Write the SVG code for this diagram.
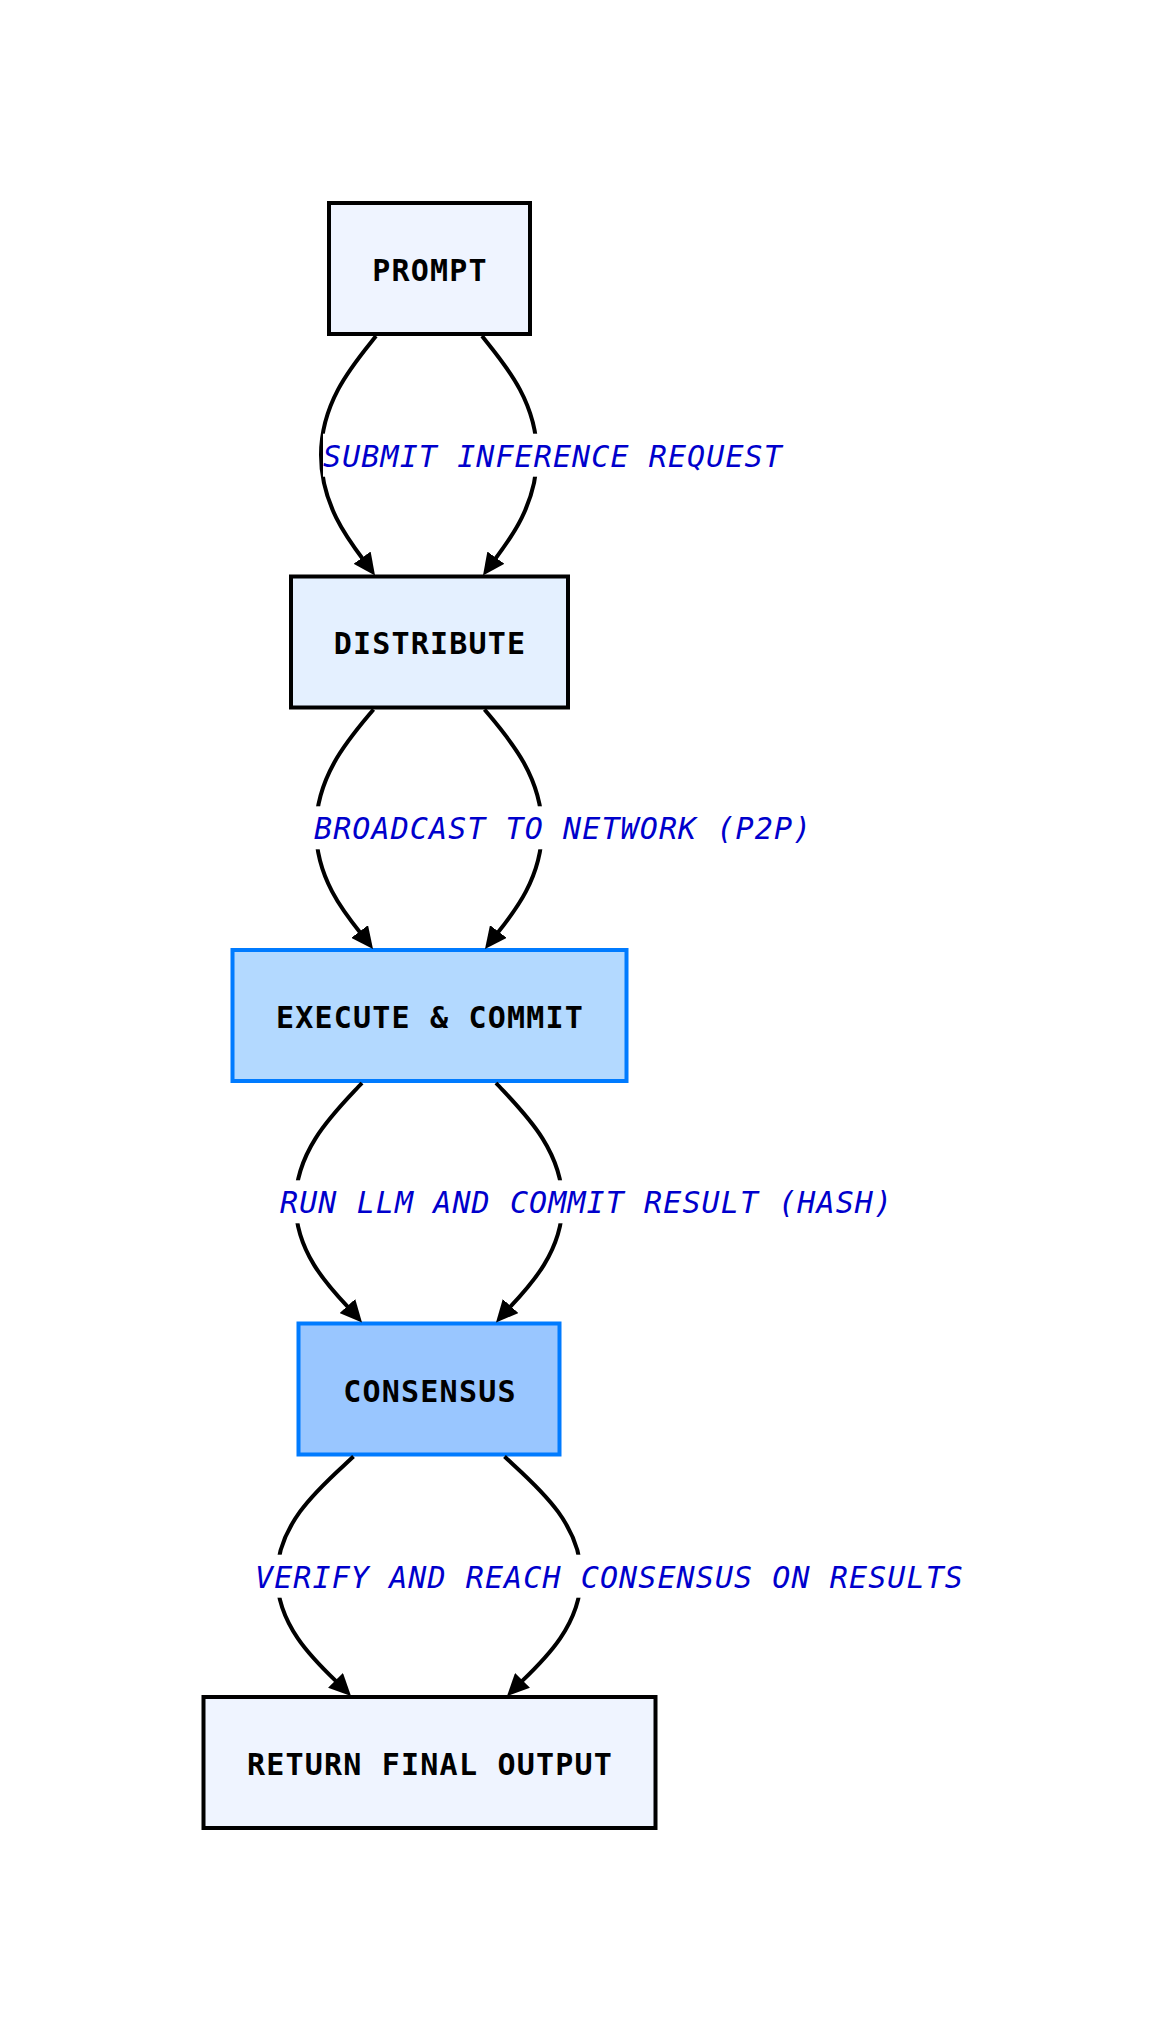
<svg xmlns="http://www.w3.org/2000/svg" width="1164" height="2032" viewBox="0 0 1164 2032">
<style>
.node rect{stroke-width:4}
.n-black rect{stroke:#000}
.n-blue rect{stroke:#007bff}
.ntext{font-family:"DejaVu Sans Mono",monospace;font-weight:bold;font-size:30px;letter-spacing:1.2px;fill:#000;text-anchor:middle}
.edge{fill:none;stroke:#000;stroke-width:4;marker-end:url(#arrow)}
.lbg{fill:#fff}
.ltext{font-family:"DejaVu Sans Mono",monospace;font-style:italic;font-size:30px;letter-spacing:1.1px;fill:#0000cc}
</style>
<defs>
<marker id="arrow" viewBox="0 0 22 21" refX="13" refY="10.5" markerWidth="22" markerHeight="21" markerUnits="userSpaceOnUse" orient="auto">
<path d="M0,0 L22,10.5 L0,21 z" fill="#000"/>
</marker>
</defs>
<rect width="1164" height="2032" fill="#fff"/>
<g id="nodes">
<g id="prompt" class="node n-black"><rect x="329" y="203" width="201" height="131" fill="#eff4ff"/><text class="ntext" x="430" y="280.5">PROMPT</text></g>
<g id="distribute" class="node n-black"><rect x="291" y="576.5" width="277" height="131" fill="#e4f0ff"/><text class="ntext" x="430" y="654">DISTRIBUTE</text></g>
<g id="execute" class="node n-blue"><rect x="232.5" y="950" width="394" height="131" fill="#b3d9ff"/><text class="ntext" x="430" y="1028">EXECUTE &amp; COMMIT</text></g>
<g id="consensus" class="node n-blue"><rect x="298.5" y="1323.5" width="261" height="131" fill="#99c6ff"/><text class="ntext" x="430" y="1401.5">CONSENSUS</text></g>
<g id="return" class="node n-black"><rect x="203.5" y="1697" width="452" height="131" fill="#eff4ff"/><text class="ntext" x="430" y="1774.5">RETURN FINAL OUTPUT</text></g>
</g>
<g id="connectors">
<path class="edge" d="M376,336 C355.4,362 321,400 321,455 C321,510 354.75,547.5 369.73,568.21"/>
<path class="edge" d="M482,336 C502.6,362 537,400 537,455 C537,510 503.25,547.5 488.27,568.21"/>
<path class="edge" d="M373.5,709.5 C351.94,735.5 316,774 316,829 C316,884 351.63,921 367.54,941.85"/>
<path class="edge" d="M484.5,709.5 C506.06,735.5 542,774 542,829 C542,884 506.38,921 490.46,941.85"/>
<path class="edge" d="M362,1083 C337.06,1110 295.5,1148 295.5,1203 C295.5,1258 337.06,1294.5 356.01,1315.78"/>
<path class="edge" d="M496,1083 C520.94,1110 562.5,1148 562.5,1203 C562.5,1258 520.94,1294.5 501.99,1315.78"/>
<path class="edge" d="M353.5,1456.5 C324.81,1483.5 277,1521 277,1576 C277,1631 323.25,1668 344.66,1689.61"/>
<path class="edge" d="M504.5,1456.5 C533.19,1483.5 581,1521 581,1576 C581,1631 534.75,1668 513.34,1689.61"/>
</g>
<g id="labels">
<g id="label-1"><rect class="lbg" x="323" y="433.7" width="460" height="43"/><text class="ltext" x="323" y="466.7">SUBMIT INFERENCE REQUEST</text></g>
<g id="label-2"><rect class="lbg" x="314" y="806.3" width="498" height="43"/><text class="ltext" x="314" y="839.3">BROADCAST TO NETWORK (P2P)</text></g>
<g id="label-3"><rect class="lbg" x="280" y="1180.3" width="613" height="43"/><text class="ltext" x="280" y="1213.3">RUN LLM AND COMMIT RESULT (HASH)</text></g>
<g id="label-4"><rect class="lbg" x="255" y="1554.7" width="709" height="43"/><text class="ltext" x="255" y="1587.7">VERIFY AND REACH CONSENSUS ON RESULTS</text></g>
</g>
</svg>
